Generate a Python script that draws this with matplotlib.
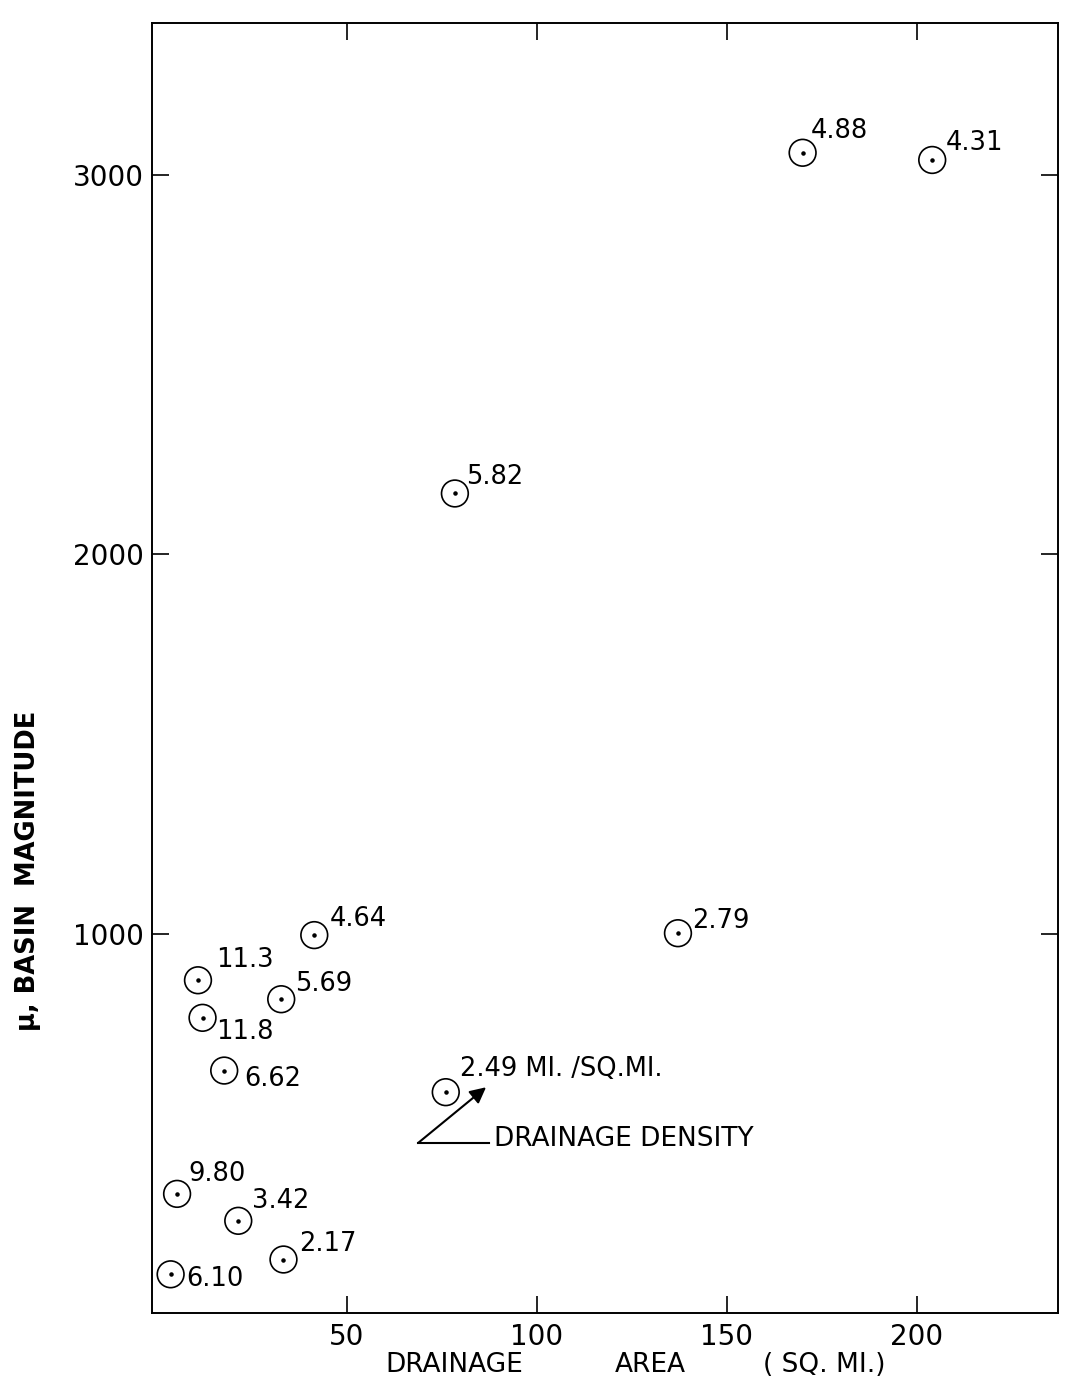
import matplotlib
matplotlib.use("Agg")
import matplotlib.pyplot as plt

# ---- data ----
density_labels = ["6.10", "2.17", "3.42", "9.80", "6.62", "11.8", "11.3",
                  "5.69", "4.64", "2.49", "2.79", "5.82", "4.88", "4.31"]
drainage_area = [3.6, 33.3, 21.4, 5.3, 17.7, 12.0, 10.8,
                 32.7, 41.4, 76.0, 137.1, 78.4, 169.9, 204.0]
basin_magnitude = [102, 141, 243, 314, 639, 778, 877,
                   827, 996, 582, 1001, 2160, 3058, 3039]
x_ticks = [50, 100, 150, 200]
x_tick_labels = ["50", "100", "150", "200"]
y_ticks = [1000, 2000, 3000]
y_tick_labels = ["1000", "2000", "3000"]
unit_suffix = " MI. /SQ.MI."
unit_label_index = 9

# annotation "DRAINAGE DENSITY" pointer (data coords)
pointer_vertex = (68.7, 448)
pointer_tip = (86.6, 595)
pointer_end = (87.3, 448)

# ---- styling / layout ----
W, H = 1073, 1383
fig = plt.figure(figsize=(W / 100, H / 100), dpi=100)
fig.patch.set_facecolor("white")

left_px, right_px, top_px, bottom_px = 152, 1058, 23, 1313
ax = fig.add_axes([left_px / W, 1 - bottom_px / H,
                   (right_px - left_px) / W, (bottom_px - top_px) / H])
ax.set_xlim(-1.3, 237.1)
ax.set_ylim(0, 3400)

for sp in ax.spines.values():
    sp.set_linewidth(1.4)
    sp.set_color("black")

ax.set_xticks(x_ticks)
ax.set_xticklabels(x_tick_labels)
ax.set_yticks(y_ticks)
ax.set_yticklabels(y_tick_labels)
ax.tick_params(direction="in", length=12, width=1.2, top=True, right=True,
               labelsize=20, pad=6)
ax.tick_params(axis="x", pad=7)

# points: open circles with center dot
ax.scatter(drainage_area, basin_magnitude, s=370, facecolors="none",
           edgecolors="black", linewidths=1.2, zorder=3)
ax.scatter(drainage_area, basin_magnitude, s=5, color="black", zorder=4)

offsets = [(11.5, -3.6), (11.5, 11.5), (10, 14.4), (8, 14.4), (14.4, -5.8),
           (10, -10), (13, 14.4), (10, 10.8), (11.5, 11.5), (10, 16.5),
           (10, 8.6), (8, 12.2), (5.8, 15.8), (10, 12.2)]
for i, (x, y, lab) in enumerate(zip(drainage_area, basin_magnitude, density_labels)):
    txt = lab + unit_suffix if i == unit_label_index else lab
    ax.annotate(txt, (x, y), xytext=offsets[i], textcoords="offset points",
                ha="left", va="center", fontsize=18.5)

# pointer arrow + horizontal line
ax.annotate("", xy=pointer_tip, xytext=pointer_vertex,
            arrowprops=dict(arrowstyle="-|>", color="black", lw=1.5,
                            mutation_scale=24, shrinkA=0, shrinkB=0))
ax.plot([pointer_vertex[0], pointer_end[0]], [pointer_vertex[1], pointer_end[1]],
        color="black", lw=1.5)
ax.annotate("DRAINAGE DENSITY", pointer_end, xytext=(4, 3),
            textcoords="offset points", ha="left", va="center", fontsize=19)

# axis titles (placed as in the scan)
fig.text(385 / W, 1 - 1365 / H, "DRAINAGE", ha="left", va="center", fontsize=19)
fig.text(615 / W, 1 - 1365 / H, "AREA", ha="left", va="center", fontsize=19)
fig.text(763 / W, 1 - 1365 / H, "( SQ. MI.)", ha="left", va="center", fontsize=19)
fig.text(28 / W, 1 - 871 / H, "\u03bc, BASIN  MAGNITUDE", rotation=90,
         ha="center", va="center", fontsize=18.5, fontweight="bold")

fig.savefig("out.png", dpi=100, facecolor="white")
